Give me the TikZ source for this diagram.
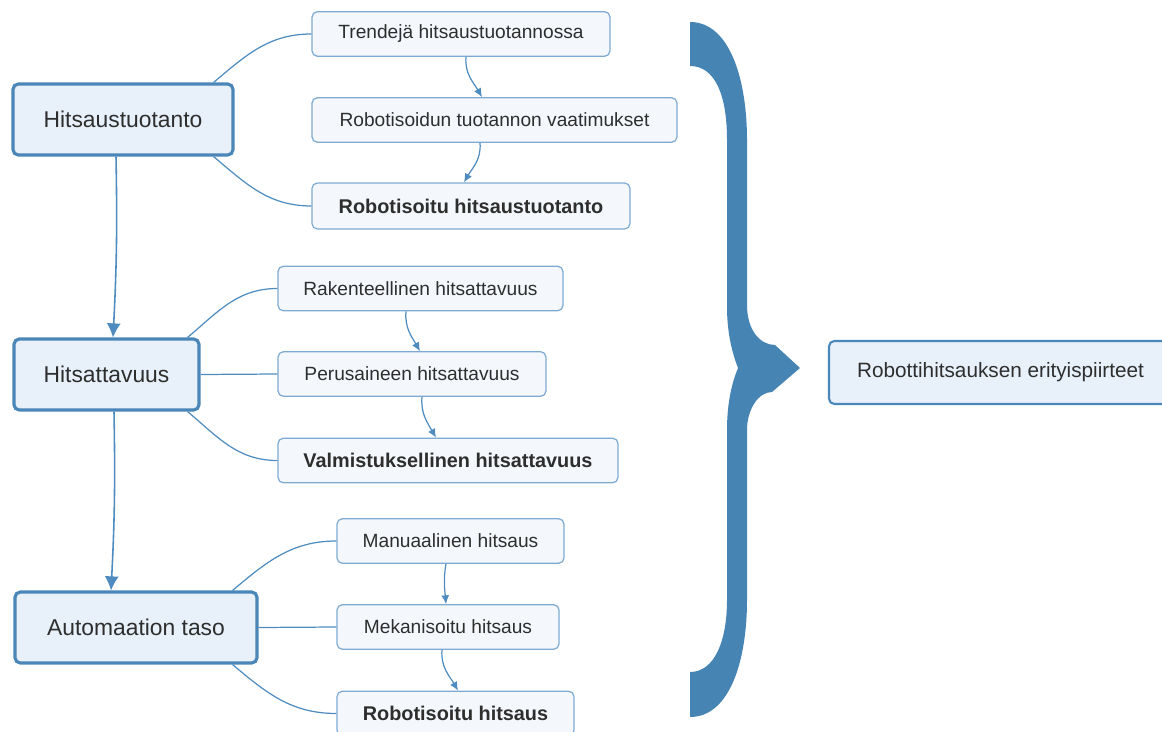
\documentclass[tikz,border=0pt]{standalone}
\usepackage{fontspec}
\setmainfont{Liberation Sans}
\usetikzlibrary{arrows.meta}
\definecolor{braceblue}{HTML}{4684B4}
\definecolor{mainline}{HTML}{4A86B7}
\definecolor{mainfill}{HTML}{E8F1FA}
\definecolor{subline}{HTML}{7EAAD2}
\definecolor{subfill}{HTML}{F4F8FD}
\definecolor{linkblue}{HTML}{4E8CBF}
\definecolor{textgray}{HTML}{2E2E2E}
\begin{document}
\begin{tikzpicture}[x=0.02cm, y=0.02cm,
    mainbox/.style={rectangle, draw=mainline, line width=1.8pt, rounded corners=3pt, fill=mainfill, minimum height=1.42cm, text=textgray, font=\fontsize{13}{15}\selectfont},
    subbox/.style={rectangle, draw=subline, line width=0.7pt, rounded corners=3pt, fill=subfill, minimum height=0.89cm, text=textgray, font=\fontsize{10.9}{13}\selectfont},
    keybox/.style={subbox, font=\fontsize{11.3}{13}\selectfont\bfseries},
    resultbox/.style={rectangle, draw=mainline, line width=1.2pt, rounded corners=3pt, fill=mainfill, minimum height=1.26cm, text=textgray, font=\fontsize{11.8}{14}\selectfont},
    branch/.style={draw=linkblue, line width=0.7pt},
    seq/.style={branch, -{Latex[length=5pt,width=4.5pt]}},
    flow/.style={draw=linkblue, line width=0.9pt, -{Latex[length=8pt,width=8pt]}}
  ]
    \useasboundingbox (0,0) rectangle (1162,731);

    \node[mainbox, minimum width=4.4cm] (prod) at (123,611.5) {Hitsaustuotanto};
    \node[mainbox, minimum width=3.7cm] (weld) at (106.5,356.5) {Hitsattavuus};
    \node[mainbox, minimum width=4.84cm] (auto) at (136,103.5) {Automaation taso};

    \node[subbox, minimum width=5.96cm] (trend) at (461,697) {Trendejä hitsaustuotannossa};
    \node[subbox, minimum width=7.3cm] (req) at (494.5,611) {Robotisoidun tuotannon vaatimukset};
    \node[keybox, minimum width=6.36cm, minimum height=0.92cm] (robprod) at (471,525) {Robotisoitu hitsaustuotanto};

    \node[subbox, minimum width=5.7cm] (struct) at (420.5,442.5) {Rakenteellinen hitsattavuus};
    \node[subbox, minimum width=5.36cm] (base) at (412,357) {Perusaineen hitsattavuus};
    \node[keybox, minimum width=6.8cm] (manuf) at (448,270.5) {Valmistuksellinen hitsattavuus};

    \node[subbox, minimum width=4.54cm] (manual) at (450.5,190) {Manuaalinen hitsaus};
    \node[subbox, minimum width=4.44cm] (mech) at (448,104) {Mekanisoitu hitsaus};
    \node[keybox, minimum width=4.74cm] (robot) at (455.5,17.5) {Robotisoitu hitsaus};

    \node[resultbox, minimum width=6.86cm] (result) at (1000.5,358.5) {Robottihitsauksen erityispiirteet};

    \fill[braceblue] (690,709) .. controls (730,709) and (747,651) .. (747,591) -- (747,426)
      .. controls (747,401) and (760,386) .. (775,386) -- (800,363) -- (772,339)
      .. controls (758,339) and (747,321) .. (747,301) -- (747,131)
      .. controls (747,71) and (730,14) .. (690,14) -- (690,59)
      .. controls (715,59) and (727,91) .. (727,131) -- (727,301)
      .. controls (727,331) and (733,351) .. (738,363)
      .. controls (733,376) and (727,396) .. (727,424) -- (727,591)
      .. controls (727,636) and (715,665) .. (690,665) -- cycle;

    \draw[flow] ([xshift=-0.14cm]prod.south) to[bend left=2] ([xshift=0.13cm]weld.north);
    \draw[flow] ([xshift=0.15cm]weld.south) to[bend left=2] ([xshift=-0.5cm]auto.north);

    \draw[branch] ([xshift=-0.42cm]prod.north east) to[out=40, in=180] (trend.west);
    \draw[branch] ([xshift=-0.42cm]prod.south east) to[out=-40, in=180] (robprod.west);
    \draw[branch] ([xshift=-0.26cm]weld.north east) to[out=40, in=180] (struct.west);
    \draw[branch] (weld.east) -- (base.west);
    \draw[branch] ([xshift=-0.26cm]weld.south east) to[out=-40, in=180] (manuf.west);
    \draw[branch] ([xshift=-0.52cm]auto.north east) to[out=40, in=180] (manual.west);
    \draw[branch] (auto.east) -- (mech.west);
    \draw[branch] ([xshift=-0.52cm]auto.south east) to[out=-40, in=180] (robot.west);

    \draw[seq] ([xshift=0.1cm]trend.south) to[out=-95, in=120] ([xshift=-0.25cm]req.north);
    \draw[seq] ([xshift=-0.29cm]req.south) to[out=-85, in=60] ([xshift=-0.14cm]robprod.north);
    \draw[seq] ([xshift=-0.29cm]struct.south) to[out=-95, in=120] ([xshift=0.16cm]base.north);
    \draw[seq] ([xshift=0.2cm]base.south) to[out=-95, in=120] ([xshift=-0.24cm]manuf.north);
    \draw[seq] ([xshift=-0.09cm]manual.south) to[out=-100, in=95] ([xshift=-0.04cm]mech.north);
    \draw[seq] ([xshift=-0.12cm]mech.south) to[out=-95, in=120] ([xshift=0.05cm]robot.north);
  \end{tikzpicture}
\end{document}
